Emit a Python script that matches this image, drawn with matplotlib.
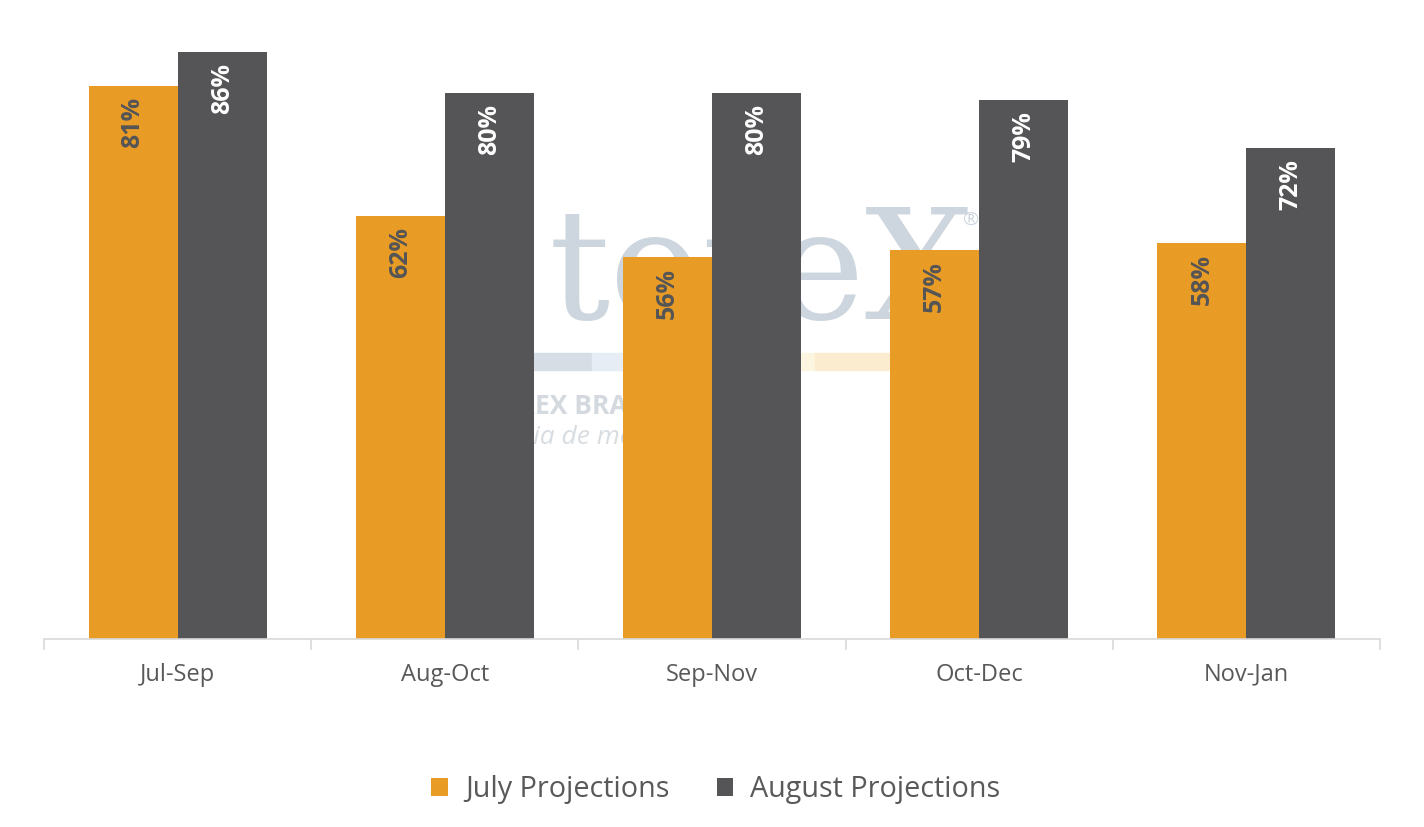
import matplotlib.pyplot as plt
import numpy as np

plt.rcParams['font.family'] = ['Open Sans', 'DejaVu Sans']

periods = ['Jul-Sep', 'Aug-Oct', 'Sep-Nov', 'Oct-Dec', 'Nov-Jan']
july = [81, 62, 56, 57, 58]
august = [86, 80, 80, 79, 72]

orange = '#E89C25'
gray = '#555557'

fig = plt.figure(figsize=(14.24, 8.27), dpi=100)
ax = fig.add_axes([44 / 1424, 188 / 827, 1336 / 1424, 614 / 827])

# faint watermark, drawn behind the bars
tf = fig.transFigure
ax.text(0.535, 0.665, 'toreX', fontsize=110, family='DejaVu Serif', color='#cdd6de',
        ha='center', va='center', zorder=1, transform=tf)
ax.text(0.676, 0.728, '®', fontsize=14, color='#cdd6de', zorder=1, transform=tf)
ax.text(0.403, 0.508, 'TOREX BRASIL', fontsize=19, fontweight='bold', color='#d3d9df',
        ha='center', va='center', zorder=1, transform=tf)
ax.text(0.394, 0.471, 'inteligência de mercado', fontsize=19, style='italic', color='#d8dde2',
        ha='center', va='center', zorder=1, transform=tf)
ax.add_patch(plt.Rectangle((0.375, 0.553), 0.041, 0.02, color='#d6dde4', transform=tf, zorder=1))
ax.add_patch(plt.Rectangle((0.416, 0.553), 0.146, 0.02, color='#e6edf4', transform=tf, zorder=1))
ax.add_patch(plt.Rectangle((0.562, 0.553), 0.010, 0.02, color='#fcf5e0', transform=tf, zorder=1))
ax.add_patch(plt.Rectangle((0.572, 0.553), 0.053, 0.02, color='#fbeccf', transform=tf, zorder=1))

x = np.arange(len(periods))
w = 1 / 3
b1 = ax.bar(x - w / 2, july, w, color=orange, label='July Projections', zorder=2)
b2 = ax.bar(x + w / 2, august, w, color=gray, label='August Projections', zorder=2)

for rect, v in zip(b1, july):
    ax.text(rect.get_x() + rect.get_width() / 2, v - 1.6, f'{v}%', rotation=90,
            ha='center', va='top', fontsize=18, fontweight='bold', color=gray, zorder=3)
for rect, v in zip(b2, august):
    ax.text(rect.get_x() + rect.get_width() / 2, v - 1.6, f'{v}%', rotation=90,
            ha='center', va='top', fontsize=18, fontweight='bold', color='white', zorder=3)

ax.set_xlim(-0.5, len(periods) - 0.5)
ax.set_ylim(0, 90)
ax.set_yticks([])
ax.set_xticks(x)
ax.set_xticklabels(periods, fontsize=17, color='#595959')
ax.set_xticks(np.arange(len(periods) + 1) - 0.5, minor=True)
ax.tick_params(axis='x', which='major', length=0, pad=17)
ax.tick_params(axis='x', which='minor', length=8, color='#d9d9d9', width=1.2)
for s in ['top', 'right', 'left']:
    ax.spines[s].set_visible(False)
ax.spines['bottom'].set_color('#d9d9d9')
ax.spines['bottom'].set_linewidth(1.2)

ax.legend(loc='center', bbox_to_anchor=(0.503, -0.245), ncol=2, frameon=False,
          fontsize=20.7, handlelength=0.57, handleheight=0.57, columnspacing=1.65,
          handletextpad=0.6, labelcolor='#595959')

fig.savefig('out.png', dpi=100)
